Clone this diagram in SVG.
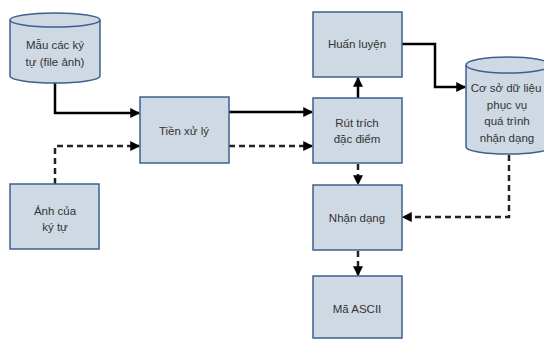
<svg xmlns="http://www.w3.org/2000/svg" width="544" height="339" viewBox="0 0 544 339">
<style>
.box{fill:#cfd9e4;stroke:#3d5f91;stroke-width:1.5}
.cyl{fill:#cfd9e4;stroke:#3d5f91;stroke-width:1.5}
.t{font-family:"Liberation Sans",Arial,sans-serif;font-size:11.5px;fill:#333;text-anchor:middle}
.s{fill:none;stroke:#000;stroke-width:2.5}
.d{fill:none;stroke:#222;stroke-width:2.5;stroke-dasharray:6 4}
</style>
<defs>
<marker id="ah" markerWidth="4" markerHeight="4" refX="3.5" refY="2" orient="auto" markerUnits="strokeWidth">
<path d="M0,0 L4,2 L0,4 Z" fill="#000"/>
</marker>
</defs>
<rect width="544" height="339" fill="#fff"/>
<g id="connectors">
<path class="s" d="M55,83 V113 H139" marker-end="url(#ah)"/>
<path class="d" d="M55,184 V146 H139" marker-end="url(#ah)"/>
<path class="s" d="M229,112 H312" marker-end="url(#ah)"/>
<path class="d" d="M229,146 H312" marker-end="url(#ah)"/>
<path class="s" d="M358,98 V78" marker-end="url(#ah)"/>
<path class="s" d="M402,44 H435 V87 H465" marker-end="url(#ah)"/>
<path class="d" d="M358,164 V184" marker-end="url(#ah)"/>
<path class="d" d="M509,155 V217 H403" marker-end="url(#ah)"/>
<path class="d" d="M358,251 V275" marker-end="url(#ah)"/>
</g>
<g id="mau">
<path class="cyl" d="M10,20 V76 A45,7 0 0 0 100,76 V20"/>
<ellipse class="cyl" cx="55" cy="20" rx="45" ry="7"/>
<text class="t" x="55" y="49">Mẫu các ký</text>
<text class="t" x="55" y="66">tự (file ảnh)</text>
</g>
<g id="anh">
<rect class="box" x="10" y="184" width="89" height="65"/>
<text class="t" x="55" y="215">Ảnh của</text>
<text class="t" x="55" y="231">ký tự</text>
</g>
<g id="tien">
<rect class="box" x="140" y="97" width="89" height="66"/>
<text class="t" x="184" y="135">Tiền xử lý</text>
</g>
<g id="huan">
<rect class="box" x="313" y="12" width="89" height="65"/>
<text class="t" x="357" y="48">Huấn luyện</text>
</g>
<g id="rut">
<rect class="box" x="313" y="98" width="89" height="65"/>
<text class="t" x="357" y="127">Rút trích</text>
<text class="t" x="357" y="143">đặc điểm</text>
</g>
<g id="nhan">
<rect class="box" x="313" y="185" width="89" height="65"/>
<text class="t" x="357" y="222">Nhận dạng</text>
</g>
<g id="ma">
<rect class="box" x="313" y="276" width="89" height="62"/>
<text class="t" x="357" y="313">Mã ASCII</text>
</g>
<g id="csdl">
<path class="cyl" d="M466,65 V147 A42,7 0 0 0 550,147 V65"/>
<ellipse class="cyl" cx="508" cy="65" rx="42" ry="8"/>
<text class="t" x="506" y="92">Cơ sở dữ liệu</text>
<text class="t" x="507" y="109">phục vụ</text>
<text class="t" x="507" y="125">quá trình</text>
<text class="t" x="507" y="142">nhận dạng</text>
</g>
</svg>
